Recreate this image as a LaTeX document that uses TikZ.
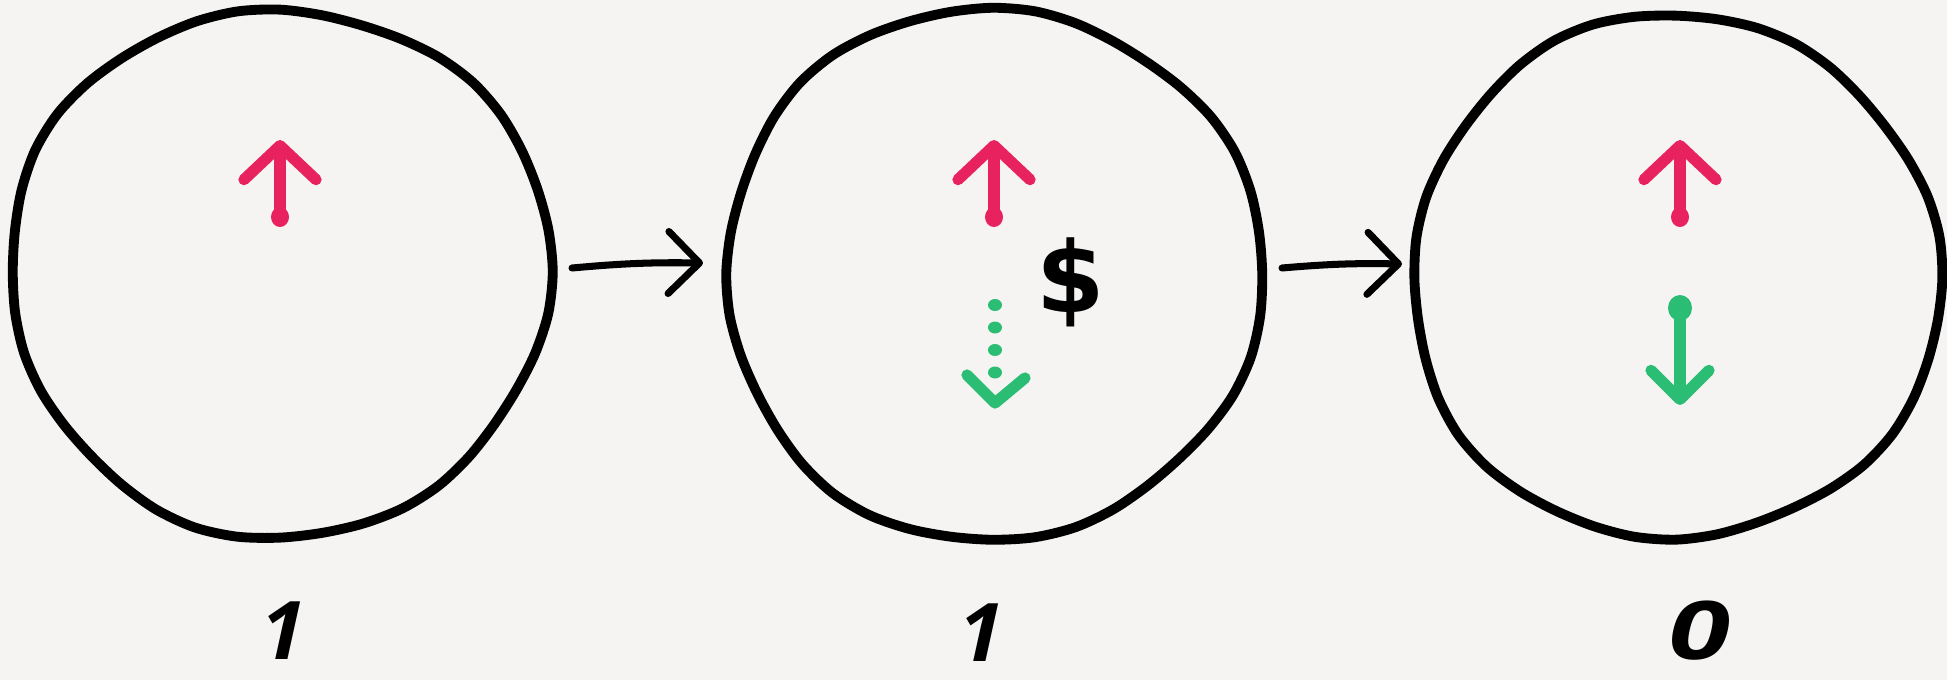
\documentclass[tikz,border=0pt]{standalone}
\usepackage{fontspec}
\setmainfont{Liberation Sans}
\newfontfamily\symfont{DejaVu Sans}
\newfontfamily\handfont{Open Sans}
\usepackage{tikz}
\usetikzlibrary{arrows.meta}
\definecolor{paper}{HTML}{F5F4F2}
\definecolor{markpink}{HTML}{E8215F}
\definecolor{markgreen}{HTML}{2BBD74}
\tikzset{
  sketchline/.style={line width=2.8pt, line cap=round, line join=round},
  flow/.style={line width=2pt, line cap=round, -{Straight Barb[length=3.1mm,width=6.2mm,round]}},
  digit/.style={font=\handfont\fontsize{23}{23}\selectfont\bfseries, inner sep=0pt, anchor=base, xslant=0.22, transform shape},
}
\newcommand{\sketchcircle}[5]{%
  \draw[sketchline] plot[smooth cycle, samples=40, domain=0:351, variable=\t]
    ({#1+#3*(1+0.012*sin(3*\t+#5)+0.008*cos(7*\t+2*#5))*cos(\t)},
     {#2+#4*(1+0.012*sin(3*\t+#5)+0.008*cos(7*\t+2*#5))*sin(\t)});
}
\newcommand{\pinkup}[2]{%
  \begin{scope}[shift={(#1,#2)}]
    \fill[markpink] (0,0) ellipse (0.09 and 0.10);
    \draw[markpink, line width=3.2pt, line cap=round, -{Straight Barb[length=3.4mm,width=7.2mm,round]}] (0,0) -- (0,0.77);
  \end{scope}%
}
\newcommand{\greendots}[2]{%
  \begin{scope}[shift={(#1,#2)}]
    \foreach \i in {0,...,3} {
      \fill[markgreen] (0,-\i*0.225) ellipse (0.07 and 0.06);
    }
    \draw[markgreen, line width=3.2pt, line cap=round, line join=round] (-0.28,-0.70) -- (0,-0.98) -- (0.30,-0.73);
  \end{scope}%
}
\newcommand{\greendown}[2]{%
  \begin{scope}[shift={(#1,#2)}]
    \fill[markgreen] (0,0) ellipse (0.12 and 0.13);
    \draw[markgreen, line width=3.2pt, line cap=round, -{Straight Barb[length=2.9mm,width=5.8mm,round]}] (0,0) -- (0,-0.97);
  \end{scope}%
}

\begin{document}
\begin{tikzpicture}
  \fill[paper] (0,0) rectangle (19.47,6.80);
  \useasboundingbox (0,0) rectangle (19.47,6.80);

  % first state
  \sketchcircle{2.80}{4.08}{2.70}{2.64}{20}
  \pinkup{2.80}{4.63}
  \node[digit] (lab1) at (2.78,0.21) {1};

  % second state
  \sketchcircle{9.93}{4.06}{2.68}{2.66}{75}
  \pinkup{9.94}{4.63}
  \node[inner sep=0pt, font=\symfont\bfseries\fontsize{28}{28}\selectfont] (cash) at (10.71,3.98) {\$};
  \greendots{9.95}{3.75}
  \node[digit] (lab2) at (9.76,0.19) {1};

  % third state
  \sketchcircle{16.76}{4.02}{2.64}{2.62}{140}
  \pinkup{16.80}{4.63}
  \greendown{16.80}{3.72}
  \node[digit, xscale=1.35] (lab3) at (16.95,0.21) {0};

  % transitions
  \coordinate (c1out) at (5.72,4.12);
  \coordinate (c2in) at (7.03,4.17);
  \coordinate (c2out) at (12.82,4.12);
  \coordinate (c3in) at (14.02,4.16);
  \draw[flow] (c1out) to[bend left=3] (c2in);
  \draw[flow] (c2out) to[bend left=3] (c3in);
\end{tikzpicture}
\end{document}
